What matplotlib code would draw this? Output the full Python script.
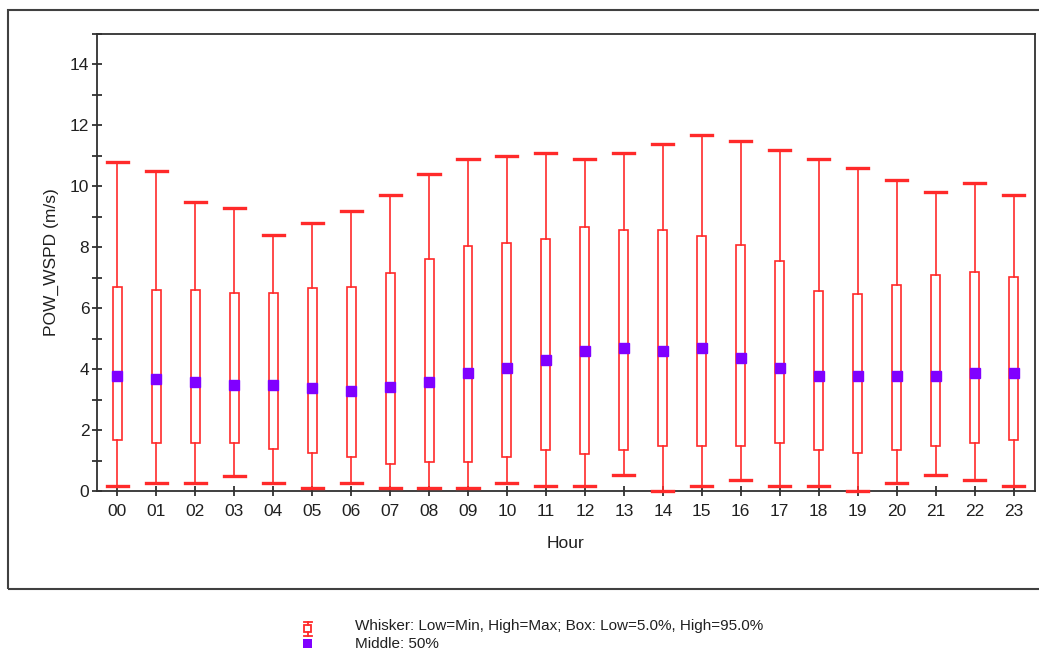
import matplotlib
matplotlib.use("Agg")
import matplotlib.pyplot as plt
from matplotlib.patches import Rectangle
from matplotlib.lines import Line2D
from matplotlib.ticker import MultipleLocator

plt.rcParams['font.family'] = ['Liberation Sans', 'DejaVu Sans']

hours = ["00", "01", "02", "03", "04", "05", "06", "07", "08", "09", "10", "11",
         "12", "13", "14", "15", "16", "17", "18", "19", "20", "21", "22", "23"]
wmax = [10.8, 10.5, 9.5, 9.3, 8.4, 8.8, 9.2, 9.7, 10.4, 10.9, 11.0, 11.1,
        10.9, 11.1, 11.4, 11.7, 11.5, 11.2, 10.9, 10.6, 10.2, 9.8, 10.1, 9.7]
p95 = [6.7, 6.6, 6.6, 6.5, 6.5, 6.65, 6.7, 7.17, 7.6, 8.04, 8.13, 8.27,
       8.66, 8.56, 8.56, 8.36, 8.09, 7.56, 6.57, 6.47, 6.75, 7.09, 7.18, 7.04]
p50 = [3.77, 3.67, 3.57, 3.48, 3.48, 3.38, 3.29, 3.4, 3.57, 3.86, 4.05, 4.29,
       4.58, 4.68, 4.58, 4.68, 4.38, 4.05, 3.77, 3.77, 3.77, 3.77, 3.86, 3.86]
p05 = [1.67, 1.58, 1.58, 1.58, 1.39, 1.25, 1.1, 0.87, 0.96, 0.96, 1.1, 1.34,
       1.2, 1.34, 1.49, 1.49, 1.49, 1.58, 1.34, 1.25, 1.34, 1.49, 1.58, 1.67]
wmin = [0.18, 0.27, 0.27, 0.5, 0.27, 0.09, 0.27, 0.09, 0.09, 0.09, 0.27, 0.18,
        0.18, 0.51, 0.01, 0.18, 0.37, 0.18, 0.18, 0.0, 0.27, 0.51, 0.37, 0.18]

RED = '#ff2a2a'
VIOLET = '#8000ff'

fig = plt.figure(figsize=(10.39, 6.51), dpi=100)
ax = fig.add_axes([97/1039, 1-491/651, (1035-97)/1039, (491-34)/651])

stats = []
for i in range(len(hours)):
    stats.append(dict(med=p50[i], q1=p05[i], q3=p95[i],
                      whislo=wmin[i], whishi=wmax[i], fliers=[]))
pos = list(range(len(hours)))
bp = ax.bxp(stats, positions=pos, widths=0.23, capwidths=0.54, patch_artist=True,
            showfliers=False,
            boxprops=dict(facecolor='white', edgecolor=RED, linewidth=1.2),
            whiskerprops=dict(color=RED, linewidth=1.2),
            capprops=dict(color=RED, linewidth=2.4),
            medianprops=dict(visible=False))
for art in bp['caps'] + bp['whiskers']:
    art.set_clip_on(False)
    art.set_zorder(4)
ax.plot(pos, p50, linestyle='none', marker='s', markersize=6.8,
        markerfacecolor=VIOLET, markeredgecolor=VIOLET, zorder=5)

ax.set_xlim(-0.52, 23.55)
ax.set_ylim(0, 15)
ax.set_xticks(pos)
ax.set_xticklabels(hours)
ax.yaxis.set_major_locator(MultipleLocator(2))
ax.yaxis.set_minor_locator(MultipleLocator(1))
ax.tick_params(axis='both', which='both', direction='inout', length=7,
               width=1.2, color='#202020', labelsize=12.5, labelcolor='#202020')
ax.tick_params(axis='x', pad=6)
ax.tick_params(axis='y', pad=2)
for s in ax.spines.values():
    s.set_color('#303030')
    s.set_linewidth(1.3)
ax.set_ylabel('POW_WSPD (m/s)', fontsize=12.5, color='#202020', labelpad=8)
ax.set_xlabel('Hour', fontsize=12.5, color='#202020', labelpad=12)

# outer frame
fig.add_artist(Rectangle((8/1039, 1-589/651), 1.2, (589-10)/651,
                         transform=fig.transFigure, fill=False,
                         edgecolor='#404040', linewidth=1.5, clip_on=False))

# legend
def fx(px):
    return px/1039

def fy(py):
    return 1-py/651

cx = 307.5
fig.add_artist(Line2D([fx(cx-4), fx(cx+4)], [fy(622)]*2, color=RED, lw=1.3))
fig.add_artist(Line2D([fx(cx-4), fx(cx+4)], [fy(635.5)]*2, color=RED, lw=1.3))
fig.add_artist(Line2D([fx(cx)]*2, [fy(622), fy(625)], color=RED, lw=1.3))
fig.add_artist(Line2D([fx(cx)]*2, [fy(632), fy(635.5)], color=RED, lw=1.3))
fig.add_artist(Rectangle((fx(cx-3.5), fy(632)), 7/1039, 7/651,
                         transform=fig.transFigure, fill=False,
                         edgecolor=RED, linewidth=1.3))
fig.add_artist(Rectangle((fx(303), fy(648)), 9/1039, 9/651,
                         transform=fig.transFigure, facecolor=VIOLET,
                         edgecolor='none'))
fig.text(fx(355), fy(626), 'Whisker: Low=Min, High=Max; Box: Low=5.0%, High=95.0%',
         fontsize=11, va='center', ha='left', color='#202020')
fig.text(fx(355), fy(644), 'Middle: 50%', fontsize=11, va='center', ha='left',
         color='#202020')

fig.savefig('out.png', dpi=100)
